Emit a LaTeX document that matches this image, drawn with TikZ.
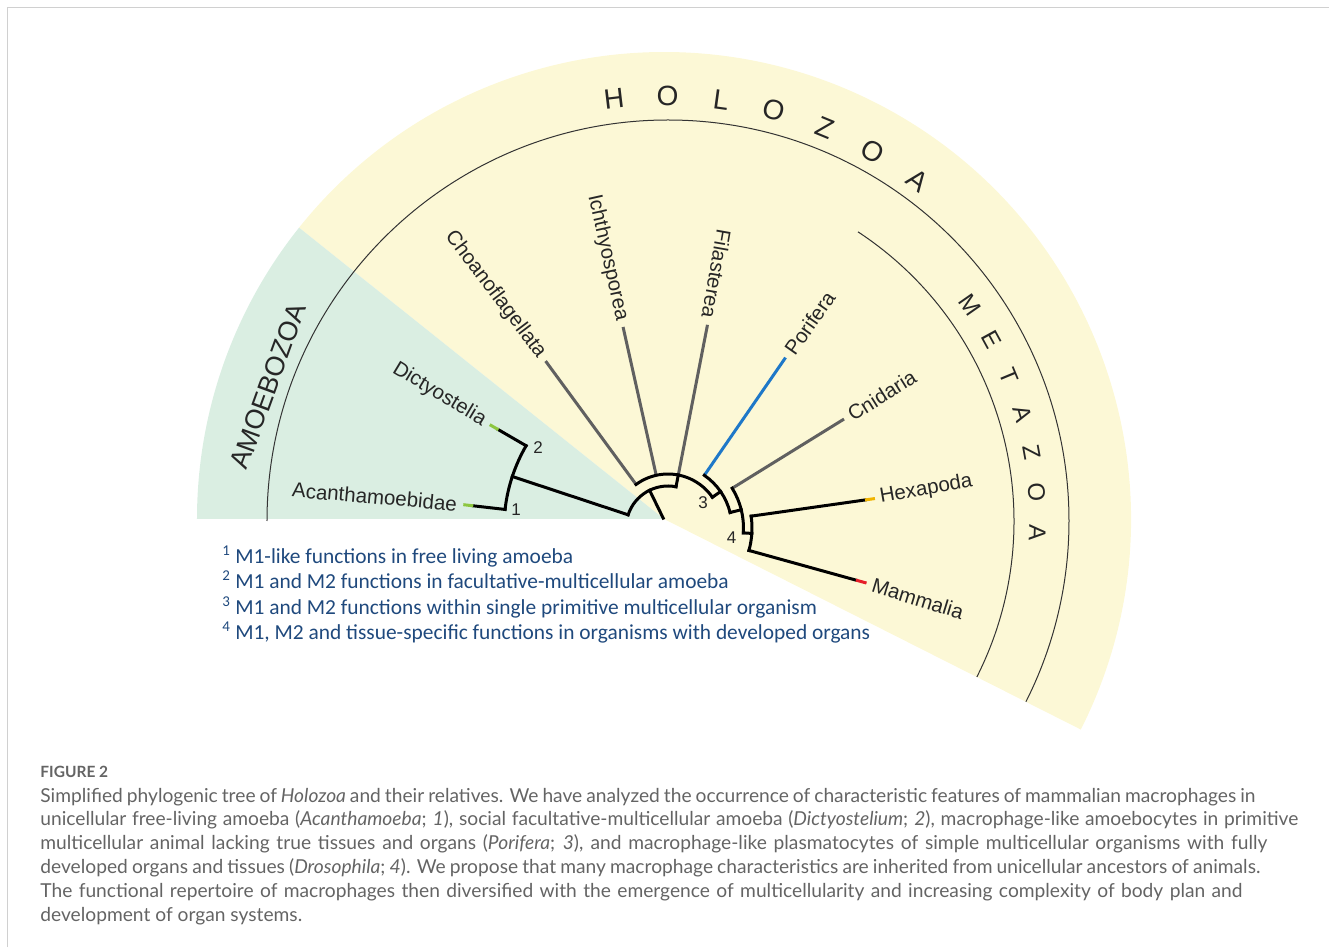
\documentclass[tikz,border=0pt]{standalone}
\usepackage{fontspec}
\setmainfont{Liberation Sans}
\newfontfamily\legfont{Carlito}
\newfontfamily\capfont{Lato}

\definecolor{amarelo}{RGB}{252,248,214}
\definecolor{verde}{RGB}{218,238,226}
\definecolor{azulleg}{RGB}{31,73,125}
\definecolor{azulpor}{RGB}{30,120,200}
\definecolor{cinzaramo}{RGB}{96,96,96}
\definecolor{verdeponta}{RGB}{140,198,63}
\definecolor{amareloponta}{RGB}{240,180,0}
\definecolor{vermelhoponta}{RGB}{230,30,40}
\definecolor{cinzalegenda}{RGB}{100,100,100}
\definecolor{moldura}{RGB}{208,208,208}

\begin{document}
\begin{tikzpicture}[x=1pt, y=1pt, thick,
    ramo/.style={line width=3pt, line cap=rect},
    folha/.style={line width=3pt},
    arco/.style={line width=1pt, black!80},
    rotulo/.style={font=\fontsize{20.5}{24}\selectfont, text=black!85, inner sep=2pt},
    numero/.style={font=\fontsize{17}{19}\selectfont, text=black!85, inner sep=0pt},
    letra/.style={font=\fontsize{28}{30}\selectfont, text=black!85, inner sep=0pt},
    letram/.style={font=\fontsize{24}{26}\selectfont, text=black!85, inner sep=0pt},
    legenda/.style={font=\legfont\fontsize{21.4}{25}\selectfont, text=azulleg, inner sep=0pt, anchor=base west},
    texto/.style={font=\capfont\fontsize{19.2}{22}\selectfont, text=cinzalegenda, inner sep=0pt, anchor=base west}]

    % Area da figura (1329 x 947, origem no centro dos setores)
    \useasboundingbox (-664,-428) rectangle (665,519);

    % Centros
    \coordinate (C) at (0,0);    % setores
    \coordinate (CH) at (4,-2);  % arcos finos
    \coordinate (T) at (4,-9);   % arvore

    % Moldura da pagina
    \coordinate (fBL) at (-656.5,-428);
    \coordinate (fTL) at (-656.5,511.5);
    \coordinate (fTR) at (665,511.5);
    \draw[moldura, line width=1.5pt] (fBL) -- (fTL) -- (fTR);

    % --- Setores ---
    \fill[amarelo] (C) -- (-26.8:467) arc[start angle=-26.8, end angle=141.4, radius=467] -- cycle;
    \fill[verde] (C) -- (141.4:467) arc[start angle=141.4, end angle=180, radius=467] -- cycle;

    % Arcos finos (Holozoa e Metazoa)
    \draw[arco] ([shift={(180:401)}]CH) arc[start angle=180, end angle=-26.8, radius=401];
    \draw[arco] ([shift={(56.7:346)}]CH) arc[start angle=56.7, end angle=-26.8, radius=346];

    % --- Nomes dos grupos ---
    \node[letra] (h1) at (96.8:423) [rotate=6.8] {H};
    \node[letra] (h2) at (89.52:423) [rotate=-0.48] {O};
    \node[letra] (h3) at (82.24:423) [rotate=-7.76] {L};
    \node[letra] (h4) at (74.96:423) [rotate=-15.04] {O};
    \node[letra] (h5) at (67.68:423) [rotate=-22.32] {Z};
    \node[letra] (h6) at (60.4:423) [rotate=-29.6] {O};
    \node[letra] (h7) at (53.12:423) [rotate=-36.88] {A};

    \node[letram] (m1) at (34.9:373.5) [rotate=-55.1] {M};
    \node[letram] (m2) at (28.73:373.5) [rotate=-61.27] {E};
    \node[letram] (m3) at (22.56:373.5) [rotate=-67.44] {T};
    \node[letram] (m4) at (16.39:373.5) [rotate=-73.61] {A};
    \node[letram] (m5) at (10.22:373.5) [rotate=-79.78] {Z};
    \node[letram] (m6) at (4.05:373.5) [rotate=-85.95] {O};
    \node[letram] (m7) at (-2.12:373.5) [rotate=-92.12] {A};

    \node[font=\fontsize{27}{29}\selectfont, text=black!85, rotate=70] (amoeb) at (-396,133) {AMOEBOZOA};

    % --- Arvore ---
    \begin{scope}[shift={(T)}]
        % raiz
        \coordinate (r0) at (116:11);
        \coordinate (r1) at (116:42);
        \coordinate (rA) at (161.7:42);
        \coordinate (rH) at (79:42);

        % Amoebozoa
        \coordinate (nA) at (161.7:164);
        \coordinate (acB) at (173.5:164);
        \coordinate (acG) at (173.5:196);
        \coordinate (acT) at (173.5:206);
        \coordinate (diB) at (149.9:164);
        \coordinate (diG) at (149.9:196);
        \coordinate (diT) at (149.9:206);

        % Holozoa
        \coordinate (nH) at (79:54);
        \coordinate (chB) at (126.25:54);
        \coordinate (chT) at (126.25:207);
        \coordinate (icB) at (102.6:54);
        \coordinate (icT) at (102.6:206);
        \coordinate (fiT) at (79:207);

        % Metazoa (3)
        \coordinate (n3a) at (34.7:54);
        \coordinate (n3) at (34.7:64);
        \coordinate (poB) at (55.4:64);
        \coordinate (poT) at (55.4:207);

        % Eumetazoa
        \coordinate (nEa) at (14:64);
        \coordinate (nE) at (14:75.5);
        \coordinate (cnB) at (31.75:75.5);
        \coordinate (cnT) at (31.75:207);

        % Hexapoda + Mammalia (4)
        \coordinate (n4a) at (-3.7:75.5);
        \coordinate (n4) at (-3.7:84);
        \coordinate (hxB) at (8.1:84);
        \coordinate (hxG) at (8.1:199);
        \coordinate (hxT) at (8.1:209);
        \coordinate (maB) at (-15.5:84);
        \coordinate (maG) at (-15.5:195);
        \coordinate (maT) at (-15.5:206);

        % Ramos terminais
        \draw[folha, cinzaramo] (chB) -- (chT);
        \draw[folha, cinzaramo] (icB) -- (icT);
        \draw[folha, cinzaramo] (nH) -- (fiT);
        \draw[folha, azulpor] (poB) -- (poT);
        \draw[folha, cinzaramo] (cnB) -- (cnT);
        \draw[ramo] (acB) -- (acG);
        \draw[folha, verdeponta] (acG) -- (acT);
        \draw[ramo] (diB) -- (diG);
        \draw[folha, verdeponta] (diG) -- (diT);
        \draw[ramo] (hxB) -- (hxG);
        \draw[folha, amareloponta] (hxG) -- (hxT);
        \draw[ramo] (maB) -- (maG);
        \draw[folha, vermelhoponta] (maG) -- (maT);

        % Arcos e hastes internas
        \draw[ramo] (r0) -- (r1);
        \draw[ramo] (rA) arc[start angle=161.7, end angle=79, radius=42];
        \draw[ramo] (rA) -- (nA);
        \draw[ramo] (acB) arc[start angle=173.5, end angle=149.9, radius=164];
        \draw[ramo] (rH) -- (nH);
        \draw[ramo] (chB) arc[start angle=126.25, end angle=34.7, radius=54];
        \draw[ramo] (n3a) -- (n3);
        \draw[ramo] (poB) arc[start angle=55.4, end angle=14, radius=64];
        \draw[ramo] (nEa) -- (nE);
        \draw[ramo] (cnB) arc[start angle=31.75, end angle=-3.7, radius=75.5];
        \draw[ramo] (n4a) -- (n4);
        \draw[ramo] (hxB) arc[start angle=8.1, end angle=-15.5, radius=84];

        % Rotulos das folhas
        \node[rotulo, anchor=east, rotate=-5] (acanth) at (173.5:210) {Acanthamoebidae};
        \node[rotulo, anchor=east, rotate=-31] (dicty) at (149.9:210) {Dictyostelia};
        \node[rotulo, anchor=east, rotate=-53] (choano) at (126.25:211) {Choanoflagellata};
        \node[rotulo, anchor=east, rotate=-77.4] (ichthyo) at (102.6:210) {Ichthyosporea};
        \node[rotulo, anchor=east, rotate=-100] (filast) at (79:211) {Filasterea};
        \node[rotulo, anchor=west, rotate=55] (porif) at (55.4:211) {Porifera};
        \node[rotulo, anchor=west, rotate=32] (cnid) at (31.75:211) {Cnidaria};
        \node[rotulo, anchor=west, rotate=10] (hexa) at (8.1:212) {Hexapoda};
        \node[rotulo, anchor=west, rotate=-17] (mamm) at (-15.5:210) {Mammalia};
    \end{scope}

    % Numeros dos nos
    \node[numero] (num1) at (-148,9) {1};
    \node[numero] (num2) at (-126,71) {2};
    \node[numero] (num3) at (39,16) {3};
    \node[numero] (num4) at (67.5,-18.5) {4};

    % --- Legenda azul ---
    \node[legenda] (leg1) at (-442,-44) {\textsuperscript{1} M1-like functions in free living amoeba};
    \node[legenda] (leg2) at (-442,-69.5) {\textsuperscript{2} M1 and M2 functions in facultative-multicellular amoeba};
    \node[legenda] (leg3) at (-442,-95) {\textsuperscript{3} M1 and M2 functions within single primitive multicellular organism};
    \node[legenda] (leg4) at (-442,-120.5) {\textsuperscript{4} M1, M2 and tissue-specific functions in organisms with developed organs};

    % --- Texto da figura ---
    \node[texto, font=\capfont\bfseries\fontsize{15.5}{20}\selectfont] (fig) at (-624,-258) {FIGURE 2};
    \node[texto] (cap1) at (-624,-283) {\makebox[1215pt][s]{Simplified phylogenic tree of \textit{Holozoa} and their relatives. We have analyzed the occurrence of characteristic features of mammalian macrophages in}};
    \node[texto] (cap2) at (-624,-306.8) {\makebox[1258pt][s]{unicellular free-living amoeba (\textit{Acanthamoeba}; \textit{1}), social facultative-multicellular amoeba (\textit{Dictyostelium}; \textit{2}), macrophage-like amoebocytes in primitive}};
    \node[texto] (cap3) at (-624,-330.6) {\makebox[1227pt][s]{multicellular animal lacking true tissues and organs (\textit{Porifera}; \textit{3}), and macrophage-like plasmatocytes of simple multicellular organisms with fully}};
    \node[texto] (cap4) at (-624,-354.4) {\makebox[1220pt][s]{developed organs and tissues (\textit{Drosophila}; \textit{4}). We propose that many macrophage characteristics are inherited from unicellular ancestors of animals.}};
    \node[texto] (cap5) at (-624,-378.2) {\makebox[1202pt][s]{The functional repertoire of macrophages then diversified with the emergence of multicellularity and increasing complexity of body plan and}};
    \node[texto] (cap6) at (-624,-402) {development of organ systems.};

\end{tikzpicture}
\end{document}
